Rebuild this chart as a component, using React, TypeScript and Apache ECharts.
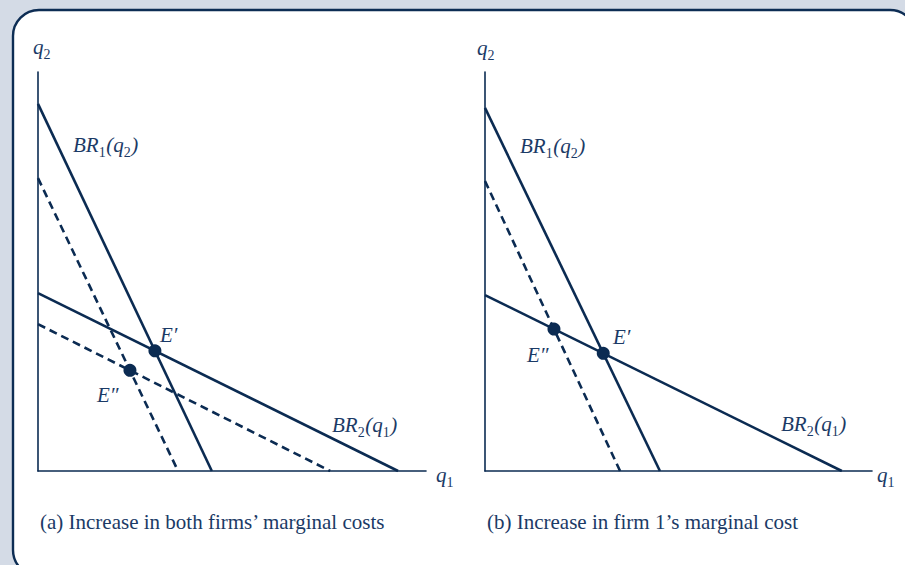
import { useEffect, useRef } from "react";
import * as echarts from "echarts";

type Pt = [number, number];

// Best-response lines, each given by its two axis intercepts [q1, q2]
// Panel (a): both firms' costs rise
const brOneA: Pt[] = [[0, 92.0], [44.8, 0]];
const brOneShiftedA: Pt[] = [[0, 73.4], [36.1, 0]];
const brTwoA: Pt[] = [[0, 44.6], [92.8, 0]];
const brTwoShiftedA: Pt[] = [[0, 36.8], [75.3, 0]];

// Panel (b): only firm 1's cost rises
const brOneB: Pt[] = [[0, 91.0], [45.2, 0]];
const brOneShiftedB: Pt[] = [[0, 72.7], [34.9, 0]];
const brTwoB: Pt[] = [[0, 44.1], [92.2, 0]];

const axisMaxQ1 = 100;
const axisMaxQ2 = 100;

const captions = [
  "(a) Increase in both firms\u2019 marginal costs",
  "(b) Increase in firm 1\u2019s marginal cost",
];

const INK = "#0b2b52";
const TEXT = "#1b3a66";
const SERIF = "Liberation Serif";
const MAIN_SIZE = 21;
const SUB_SIZE = 14;
const SUB_DROP = 7;

// Intersection of two lines each passing through (0, a) and (b, 0)
function intersect(l1: Pt[], l2: Pt[]): Pt {
  const a1 = l1[0][1];
  const s1 = a1 / l1[1][0];
  const a2 = l2[0][1];
  const s2 = a2 / l2[1][0];
  const x = (a1 - a2) / (s1 - s2);
  return [x, a1 - s1 * x];
}

const eqA1 = intersect(brOneA, brTwoA);
const eqA2 = intersect(brOneShiftedA, brTwoShiftedA);
const eqB1 = intersect(brOneB, brTwoB);
const eqB2 = intersect(brOneShiftedB, brTwoB);

const measureCtx = document.createElement("canvas").getContext("2d");
function textWidth(text: string, font: string) {
  if (!measureCtx) return text.length * 10;
  measureCtx.font = font;
  return measureCtx.measureText(text).width;
}

// Math-style label: "_" marks the following single character as a subscript
function label(x: number, y: number, spec: string) {
  const children: any[] = [];
  let cx = 0;
  for (let k = 0; k < spec.length; k++) {
    let ch = spec[k];
    let sub = false;
    if (ch === "_") {
      sub = true;
      k++;
      ch = spec[k];
    }
    const size = sub ? SUB_SIZE : MAIN_SIZE;
    const style = sub ? "normal" : "italic";
    const font = `${style} ${size}px ${SERIF}`;
    children.push({
      type: "text",
      x: cx,
      y: sub ? SUB_DROP : 0,
      style: {
        text: ch,
        fontFamily: SERIF,
        fontStyle: style,
        fontSize: size,
        fill: TEXT,
        align: "left",
        verticalAlign: "middle",
      },
    });
    cx += textWidth(ch, font) + (sub ? 0.5 : 0);
  }
  return { type: "group", x, y, z: 20, children };
}

function caption(x: number, y: number, text: string) {
  return {
    type: "text",
    x,
    y,
    z: 20,
    style: {
      text,
      fontFamily: SERIF,
      fontSize: 21,
      fill: TEXT,
      align: "left",
      verticalAlign: "middle",
    },
  };
}

function lineSeries(idx: number, data: Pt[], dashed: boolean) {
  return {
    type: "line",
    xAxisIndex: idx,
    yAxisIndex: idx,
    data,
    symbol: "none",
    silent: true,
    z: 3,
    lineStyle: { color: INK, width: 2.6, type: dashed ? [8, 5] : "solid" },
  };
}

function pointSeries(idx: number, data: Pt[]) {
  return {
    type: "scatter",
    xAxisIndex: idx,
    yAxisIndex: idx,
    data,
    symbol: "circle",
    symbolSize: 13,
    silent: true,
    z: 5,
    itemStyle: { color: INK, opacity: 1 },
  };
}

function axisPair(idx: number) {
  const common = {
    type: "value",
    min: 0,
    gridIndex: idx,
    axisTick: { show: false },
    axisLabel: { show: false },
    splitLine: { show: false },
    axisLine: { show: true, lineStyle: { color: INK, width: 1.6 } },
  };
  return {
    x: { ...common, max: axisMaxQ1 },
    y: { ...common, max: axisMaxQ2 },
  };
}

export default function App() {
  const ref = useRef<HTMLDivElement>(null);

  useEffect(() => {
    if (!ref.current) return;
    const chart = echarts.init(ref.current, null, { renderer: "svg" });
    const a = axisPair(0);
    const b = axisPair(1);
    chart.setOption({
      animation: false,
      backgroundColor: "#d4dbe6",
      grid: [
        { left: 38, top: 72, width: 388, height: 399 },
        { left: 485, top: 72, width: 387, height: 399 },
      ],
      xAxis: [a.x, b.x],
      yAxis: [a.y, b.y],
      series: [
        lineSeries(0, brOneA, false),
        lineSeries(0, brOneShiftedA, true),
        lineSeries(0, brTwoA, false),
        lineSeries(0, brTwoShiftedA, true),
        pointSeries(0, [eqA1, eqA2]),
        lineSeries(1, brOneB, false),
        lineSeries(1, brOneShiftedB, true),
        lineSeries(1, brTwoB, false),
        pointSeries(1, [eqB1, eqB2]),
      ],
      graphic: [
        {
          type: "rect",
          z: -10,
          shape: { x: 13, y: 10, width: 903, height: 566, r: 26 },
          style: { fill: "#ffffff", stroke: "#0d2d54", lineWidth: 2.4 },
        },
        // panel (a)
        label(33, 47, "q_2"),
        label(436, 475, "q_1"),
        label(73, 145, "BR_1(q_2)"),
        label(332, 425, "BR_2(q_1)"),
        label(160, 335, "E\u2032"),
        label(97, 395, "E\u2033"),
        caption(40, 522, captions[0]),
        // panel (b)
        label(477, 48, "q_2"),
        label(877, 475, "q_1"),
        label(520, 146, "BR_1(q_2)"),
        label(781, 424, "BR_2(q_1)"),
        label(613, 337, "E\u2032"),
        label(527, 355, "E\u2033"),
        caption(487, 522, captions[1]),
      ],
    });
    return () => chart.dispose();
  }, []);

  return (
    <div
      ref={ref}
      style={{ position: "absolute", left: 0, top: 0, width: 905, height: 565 }}
    />
  );
}
